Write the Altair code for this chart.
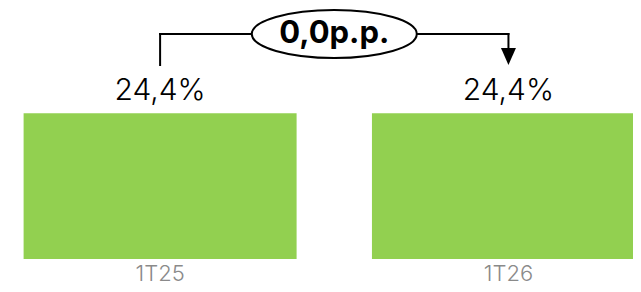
import altair as alt
import pandas as pd

# ---- data ----
categories = ["1T25", "1T26"]
values = [24.4, 24.4]
value_labels = ["24,4%", "24,4%"]

delta = values[1] - values[0]
delta_label = f"{delta:.1f}".replace(".", ",") + "p.p."

idx = list(range(len(categories)))
bars_df = pd.DataFrame({"i": idx, "cat": categories, "v": values,
                        "lbl": value_labels, "zero": [0] * len(idx)})

# annotation geometry (data units)
top = max(values)
bracket_y = top + 13.25
left_end = top + 8.06
arrow_top = top + 10.9
arrow_y = top + 9.5
mid = (idx[0] + idx[1]) / 2

rules_df = pd.DataFrame({
    "x":  [idx[0], idx[0], idx[1]],
    "x2": [idx[0], idx[1], idx[1]],
    "y":  [left_end, bracket_y, bracket_y],
    "y2": [bracket_y, bracket_y, arrow_top],
})
arrow_df = pd.DataFrame({"x": [idx[1]], "y": [arrow_y]})
bubble_df = pd.DataFrame({"x": [mid], "y": [bracket_y], "t": [delta_label]})

X = alt.Scale(domain=[-0.4223, 1.3432], nice=False, zero=False)
Y = alt.Scale(domain=[0, 42], nice=False)

FONT = "Inter"

bar = alt.Chart(bars_df).mark_bar(color="#92D050", size=273, clip=True).encode(
    x=alt.X("i:Q", scale=X, axis=None),
    y=alt.Y("v:Q", scale=Y, axis=None),
)
vlabels = alt.Chart(bars_df).mark_text(
    dy=-13, baseline="alphabetic", fontSize=30, font=FONT, fontWeight=300, color="#000000"
).encode(x=alt.X("i:Q", scale=X), y=alt.Y("v:Q", scale=Y), text="lbl:N")
clabels = alt.Chart(bars_df).mark_text(
    dy=21.5, baseline="alphabetic", fontSize=22, font=FONT, fontWeight=300, color="#8A8A8A"
).encode(x=alt.X("i:Q", scale=X), y=alt.Y("zero:Q", scale=Y), text="cat:N")

rules = alt.Chart(rules_df).mark_rule(color="#000000", strokeWidth=2, strokeCap="square").encode(
    x=alt.X("x:Q", scale=X), x2="x2:Q", y=alt.Y("y:Q", scale=Y), y2="y2:Q"
)
arrow = alt.Chart(arrow_df).mark_point(
    shape="M -0.88 -1 L 0.88 -1 L 0 1 Z", size=289, filled=True, color="#000000", opacity=1
).encode(x=alt.X("x:Q", scale=X), y=alt.Y("y:Q", scale=Y))

k = 0.5523
b = 0.291
kb = k * b
ellipse_path = (
    f"M -1 0 C -1 {-kb:.4f} {-k:.4f} {-b:.4f} 0 {-b:.4f} "
    f"C {k:.4f} {-b:.4f} 1 {-kb:.4f} 1 0 "
    f"C 1 {kb:.4f} {k:.4f} {b:.4f} 0 {b:.4f} "
    f"C {-k:.4f} {b:.4f} -1 {kb:.4f} -1 0 Z"
)
bubble = alt.Chart(bubble_df).mark_point(
    shape=ellipse_path, size=165 * 165, filled=False, fill="#FFFFFF", fillOpacity=1,
    stroke="#000000", strokeWidth=2, opacity=1
).encode(x=alt.X("x:Q", scale=X), y=alt.Y("y:Q", scale=Y))
btext = alt.Chart(bubble_df).mark_text(
    dy=9, baseline="alphabetic", fontSize=31, font=FONT, fontWeight="bold", color="#000000"
).encode(x=alt.X("x:Q", scale=X), y=alt.Y("y:Q", scale=Y), text="t:N")

chart = alt.layer(bar, vlabels, clabels, rules, arrow, bubble, btext).properties(
    width=625, height=251,
    autosize=alt.AutoSizeParams(type="none"),
    padding={"left": 0, "top": 0, "right": 0, "bottom": 25},
).configure_view(stroke=None)

chart.save("out.html", embed_options={"renderer": "svg", "actions": False})
